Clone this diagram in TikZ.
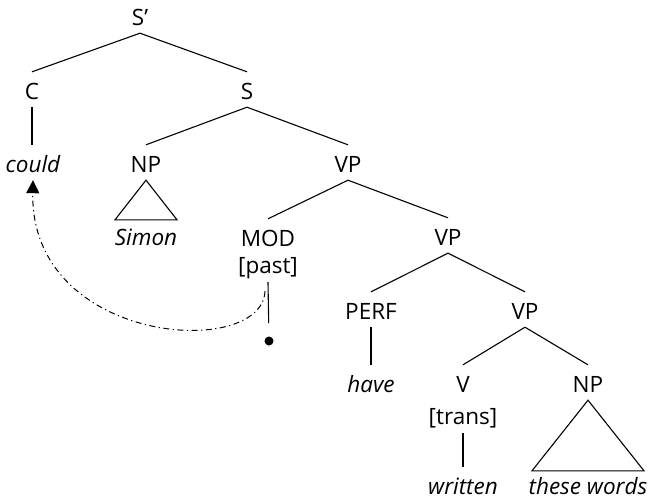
\documentclass[tikz,border=0pt]{standalone}
\usepackage{fontspec}
\setmainfont{Open Sans}
\usetikzlibrary{arrows.meta}
\tikzset{
  cat/.style={inner sep=0pt,anchor=base,text height=27pt,text depth=8pt,
    font=\fontsize{22.5}{26}\selectfont},
  leaf/.style={cat,font=\fontsize{22.5}{26}\selectfont\itshape},
  feat/.style={cat,text depth=9pt},
  tracedot/.style={circle,fill=black,inner sep=0pt,minimum size=9pt,outer sep=13.5pt},
  branch/.style={line width=1.1pt},
  movearr/.style={line width=1pt,dash pattern=on 6pt off 3.5pt on 1.2pt off 3.5pt,
    -{Triangle[length=13pt,width=13pt]}}
}

\begin{document}
\begin{tikzpicture}[x=1pt,y=-1pt]
  \useasboundingbox (0,0) rectangle (649,504);

  % Categories, placed at their baselines
  \node[cat] (sbar) at (140,25) {S’};
  \node[cat] (c) at (32,99) {C};
  \node[cat] (s) at (247,99) {S};
  \node[leaf] (could) at (33,172) {could};
  \node[cat] (np1) at (146,172) {NP};
  \node[cat] (vp1) at (348,172) {VP};
  \node[leaf] (simon) at (146,245) {Simon};
  \node[cat] (mod) at (268,246) {MOD};
  \node[feat] (past) at (268,273) {[past]};
  \node[tracedot] (trace) at (269,341) {};
  \node[cat] (vp2) at (448,245) {VP};
  \node[cat] (perf) at (371,319) {PERF};
  \node[cat] (vp3) at (525,319) {VP};
  \node[leaf] (have) at (371,392) {have};
  \node[cat] (v) at (463,392) {V};
  \node[feat] (trans) at (463,424) {[trans]};
  \node[cat] (np2) at (588,392) {NP};
  \node[leaf] (written) at (463,494) {written};
  \node[leaf] (words) at (588,494) {these words};

  % Branches
  \draw[branch] (sbar.south) -- (c.north);
  \draw[branch] (sbar.south) -- (s.north);
  \draw[branch] (c.south) -- (c|-could.north);
  \draw[branch] (s.south) -- (np1.north);
  \draw[branch] (s.south) -- (vp1.north);
  \draw[branch] (vp1.south) -- (mod.north);
  \draw[branch] (vp1.south) -- (vp2.north);
  \draw[branch] (past.south) -- (trace);
  \draw[branch] (vp2.south) -- (perf.north);
  \draw[branch] (vp2.south) -- (vp3.north);
  \draw[branch] (perf.south) -- (have.north);
  \draw[branch] (vp3.south) -- (v.north);
  \draw[branch] (vp3.south) -- (np2.north);
  \draw[branch] (trans.south) -- (written.north);

  % Triangles
  \draw[branch] (np1.south) -- ([xshift=-31pt,yshift=-2pt]simon.north)
    -- ([xshift=31pt,yshift=-2pt]simon.north) -- cycle;
  \draw[branch] (np2.south) -- ([xshift=-56pt,yshift=-4pt]words.north)
    -- ([xshift=56pt,yshift=-4pt]words.north) -- cycle;

  % Movement of the modal
  \draw[movearr] ([xshift=-3pt,yshift=-9pt]past.south)
    .. controls (262,360) and (30,345) .. (could.south);

\end{tikzpicture}
\end{document}
